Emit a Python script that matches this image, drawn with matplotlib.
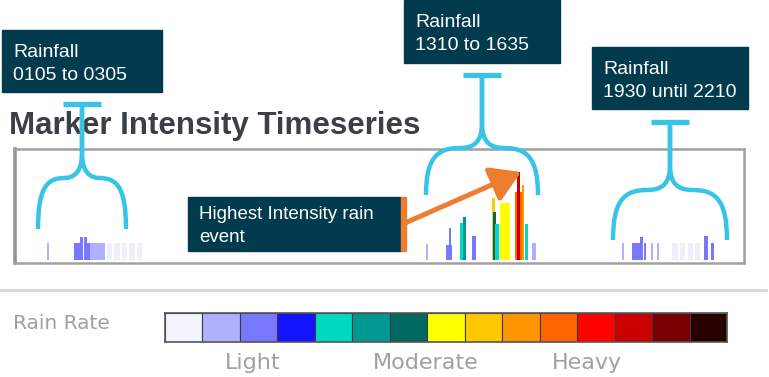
import matplotlib
matplotlib.use('Agg')
import matplotlib.pyplot as plt
from matplotlib.patches import Rectangle, PathPatch
from matplotlib.path import Path

W, H = 769, 377

# rain rate scale (legend colours, light -> heavy)
rate_colors = ['#f4f4ff', '#b0b0ff', '#7878ff', '#1414ff', '#00d8c0', '#009890', '#006860',
               '#ffff00', '#ffc800', '#ff9600', '#ff6400', '#ff0000', '#c80000', '#780000', '#280000']
rate_labels = ['Light', 'Moderate', 'Heavy']
rate_label_pos = [1.85, 6.45, 10.75]

# markers: hour of day, marker height, rate level, marker width (hours)
early_hour = [1.02, 1.95, 2.05, 2.12, 2.25, 2.35, 2.48, 2.64, 2.81, 3.05, 3.30, 3.55, 3.80, 4.05]
early_height = [17, 17, 17, 23, 23, 17, 17, 17, 17, 17, 17, 17, 17, 17]
early_level = [1, 2, 2, 2, 2, 2, 1, 1, 1, 0, 0, 0, 0, 0]
early_width = [0.08, 0.12, 0.12, 0.09, 0.09, 0.12, 0.17, 0.17, 0.17, 0.17, 0.17, 0.17, 0.17, 0.17]

mid_hour = [13.55, 14.28, 14.31, 14.71, 14.78, 15.11, 15.74, 15.77, 15.87, 16.13, 16.61, 16.58, 16.73, 16.84, 17.09]
mid_height = [16, 15, 32, 37, 43, 24, 62, 48, 36, 57, 68, 88, 75, 36, 17]
mid_level = [1, 2, 2, 4, 5, 2, 8, 6, 4, 7, 10, 12, 9, 4, 1]
mid_width = [0.09, 0.22, 0.09, 0.12, 0.09, 0.14, 0.1, 0.09, 0.12, 0.34, 0.3, 0.08, 0.08, 0.12, 0.12]

late_hour = [20.03, 20.40, 20.53, 20.63, 20.76, 20.99, 21.19, 21.75, 22.00, 22.25, 22.50, 22.78, 22.98]
late_height = [17, 17, 17, 23, 17, 17, 17, 17, 17, 17, 17, 24, 17]
late_level = [1, 2, 2, 2, 2, 1, 1, 0, 0, 0, 0, 2, 2]
late_width = [0.08, 0.12, 0.12, 0.1, 0.09, 0.08, 0.08, 0.17, 0.17, 0.17, 0.17, 0.14, 0.09]

hours = early_hour + mid_hour + late_hour
heights = early_height + mid_height + late_height
levels = early_level + mid_level + late_level
widths = early_width + mid_width + late_width

# callouts: (box x0, y0, x1, y1), text lines
callouts = [
    ((2, 30, 162, 92), ['Rainfall', '0105 to 0305']),
    ((404, 0, 560, 63), ['Rainfall', '1310 to 1635']),
    ((592, 47, 748, 109), ['Rainfall', '1930 until 2210']),
]
# braces: centre x, T-bar y, shoulder y, end y, half width
braces = [(82, 104, 178, 229, 44), (482, 75, 148, 195, 56), (670, 122, 190, 240, 57)]

navy = '#023a4e'
cyan = '#38c4e6'
orange = '#ed7d31'


def px_rect(x0, y0, x1, y1):
    return [x0 / W, 1 - y1 / H, (x1 - x0) / W, (y1 - y0) / H]


fig = plt.figure(figsize=(W / 100, H / 100), dpi=100)

# timeseries panel
ax = fig.add_axes(px_rect(15, 149, 744, 263))
bar_colors = ['#efeffb' if lv == 0 else rate_colors[lv] for lv in levels]
ax.bar(hours, heights, width=widths, color=bar_colors, edgecolor='none')
ax.set_xlim(-0.07, 24.03)
ax.set_ylim(-3, 111)
ax.set_xticks([])
ax.set_yticks([])
for side, sp in ax.spines.items():
    sp.set_color('#a0a0a0')
    sp.set_linewidth(1.8)
ax.spines['left'].set_linewidth(2.6)
ax.spines['left'].set_color('#959595')

# rain rate legend
cb = fig.add_axes(px_rect(165, 313, 727, 342))
cb.bar(range(len(rate_colors)), 1, width=1, color=rate_colors, edgecolor='#3a3a3a', linewidth=0.8)
cb.set_xlim(-0.5, len(rate_colors) - 0.5)
cb.set_ylim(0, 1)
cb.set_yticks([])
cb.set_xticks(rate_label_pos, rate_labels, fontsize=16, color='#a0a0a0', family='DejaVu Sans')
cb.tick_params(axis='x', length=0, pad=8)
for sp in cb.spines.values():
    sp.set_color('#555555')
    sp.set_linewidth(1.2)

# overlay in pixel coordinates for annotations
ov = fig.add_axes([0, 0, 1, 1])
ov.set_xlim(0, W)
ov.set_ylim(H, 0)
ov.axis('off')

ov.text(9, 134, 'Marker Intensity Timeseries', fontsize=22.5, fontweight='bold',
        color='#3b3f46', family='Liberation Sans', va='baseline')
ov.text(13, 329, 'Rain Rate', fontsize=14.5, color='#a0a0a0', family='DejaVu Sans', va='baseline')
ov.plot([0, 766], [289.5, 289.5], color='#d6d6d6', lw=2)

for (x0, y0, x1, y1), lines in callouts:
    ov.add_patch(Rectangle((x0, y0), x1 - x0, y1 - y0, color=navy, zorder=5))
    for i, line in enumerate(lines):
        ov.text(x0 + 11, y0 + 27 + 23 * i, line, color='white', fontsize=14,
                family='Liberation Sans', va='baseline', zorder=6)

# highest intensity callout with orange arrow
ov.add_patch(Rectangle((188, 197), 213, 54, color=navy, zorder=5))
ov.add_patch(Rectangle((401, 197), 5, 54, color=orange, zorder=5))
ov.text(199, 219, 'Highest Intensity rain', color='white', fontsize=13.5,
        family='Liberation Sans', va='baseline', zorder=6)
ov.text(199, 242, 'event', color='white', fontsize=13.5,
        family='Liberation Sans', va='baseline', zorder=6)
ov.annotate('', xy=(521, 172), xytext=(405, 223),
            arrowprops=dict(arrowstyle='-|>,head_length=0.9,head_width=0.55', color=orange,
                            lw=3.6, mutation_scale=20, shrinkA=0, shrinkB=0), zorder=6)

for cx, top, sh, end, half in braces:
    neck = sh - 25
    ov.plot([cx - 19, cx + 19], [top, top], color=cyan, lw=3.8, solid_capstyle='butt', zorder=7)
    for s in (-1, 1):
        verts = [(cx, top), (cx, neck),
                 (cx, sh - 6), (cx + s * 8, sh), (cx + s * 0.4 * half, sh),
                 (cx + s * 0.8 * half, sh), (cx + s * half, sh + 10), (cx + s * half, end)]
        codes = [Path.MOVETO, Path.LINETO] + [Path.CURVE4] * 6
        ov.add_patch(PathPatch(Path(verts, codes), fill=False, edgecolor=cyan, lw=3.2,
                               capstyle='butt', joinstyle='round', zorder=7))

fig.savefig('out.png', dpi=100)
